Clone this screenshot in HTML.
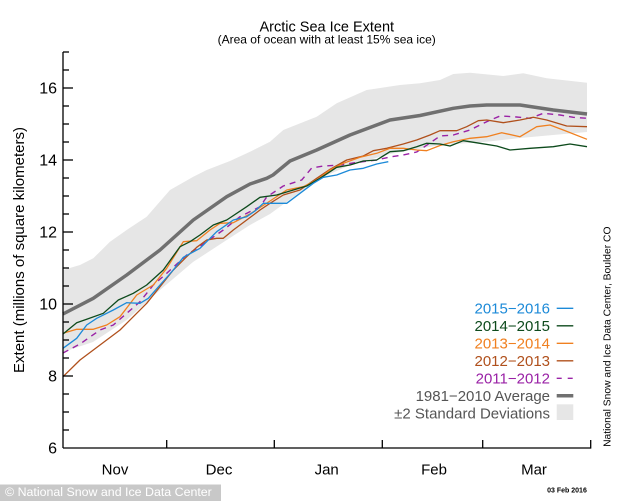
<!DOCTYPE html>
<html>
<head>
<meta charset="utf-8">
<style>
html,body{margin:0;padding:0;background:#fff;}
svg{display:block;}
text{font-family:"Liberation Sans",Arial,sans-serif;}
</style>
</head>
<body>
<svg width="634" height="501" viewBox="0 0 634 501" xmlns="http://www.w3.org/2000/svg">
<rect x="0" y="0" width="634" height="501" fill="#fff"/>

<!-- Title -->
<text x="326.8" y="31.7" font-size="14.5" text-anchor="middle" fill="#000">Arctic Sea Ice Extent</text>
<text x="326.7" y="43.3" font-size="12" text-anchor="middle" fill="#000">(Area of ocean with at least 15% sea ice)</text>

<!-- SD band -->
<polygon fill="#e6e6e6" points="63,270 80,265 93.3,258.3 110,241.7 126.7,230 146.7,216.7 170,190 193.3,176.7 206.7,170 230,161 250,151.7 270,141.7 283.3,130 316.7,116.7 336.7,103.3 366.7,90 400,85 420,83.3 440,80 453.3,74 470,72.7 503.3,76 523.3,73.3 546.7,78.3 587,82.7 587,132 553,135 520,138 486.7,141.7 440,145 390,154 350,165 316.7,180 270,214 250,225 226.7,240 193,262 160,290 126.7,320 93,342 63,352"/>

<!-- Average -->
<polyline fill="none" stroke="#707070" stroke-width="3.5" stroke-linejoin="round" points="63,314 93.3,298.3 126.7,275 160,250 193.3,220 226.7,196.7 250,184 266.7,178.3 273,175 290,161 316.7,150 350,135 390,120 420,115.5 453.3,108.3 470,106 486.7,105 520,105 553.3,110 587,114"/>

<!-- 2011-2012 purple dashed -->
<polyline fill="none" stroke="#9a22a6" stroke-width="1.4" stroke-dasharray="6,5" stroke-linejoin="round" points="63,353 80,344 100,330 113.3,325 126.7,313.3 140,301.7 153.3,285 166.7,273.3 186.7,255 206.7,241.7 223.3,230 240,216.7 260,206.7 266.7,197 283.3,186 301.7,180 311.7,168 323.3,166 340,165 360,162 376.7,160 390,157 403.3,155 416.7,152 430,143 440,136 453.3,135 470,130 486.7,121.7 500,116 513.3,116.7 530,118.3 543.3,113.3 560,115 573.3,117.3 587,118.3"/>

<!-- 2012-2013 brown -->
<polyline fill="none" stroke="#b0501c" stroke-width="1.3" stroke-linejoin="round" points="63,376.7 80,360 100,345 120,330 133.3,316.7 146.7,303.3 160,286.7 173.3,270 186.7,256.7 196.7,247.3 206.7,240 216.7,238.3 223.3,238.3 233.3,230 246.7,220 260,210 270,203.3 283.3,195 300,190 316.7,178.3 330,169.3 346.7,160 363.3,156 373.3,150.7 386.7,148.3 403.3,144 416.7,140 430,135 440,130.7 456.7,130.7 466.7,126.7 478.3,120.7 486.7,120 503.3,122.7 520,120 533.3,117.3 546.7,120 566.7,126 587,126.7"/>

<!-- 2013-2014 orange -->
<polyline fill="none" stroke="#f08020" stroke-width="1.3" stroke-linejoin="round" points="63,333.3 76.7,329.3 93.3,329.3 106.7,325 120,316.7 136.7,295 153.3,285 166.7,268.3 183.3,241.7 196.7,240.7 210,230 220,223.3 233.3,222.7 250,214 270,201 286.7,190 303.3,186.7 316.7,180 330,170 343.3,163.3 360,157.3 376.7,153.3 390,148.3 403.3,148.3 416.7,150 426.7,150.7 440,145.5 453.3,141.7 470,138.3 486.7,136.7 501.7,132.7 520,136.7 536.7,126.7 550,125 563.3,130 587,139.3"/>

<!-- 2014-2015 green -->
<polyline fill="none" stroke="#0d4a1c" stroke-width="1.3" stroke-linejoin="round" points="63,334 76.7,322.7 86.7,319.3 103.3,313.3 118.3,300 133.3,293.3 146.7,285 163.3,270 180,246.7 190,241.7 200,235 213.3,225 226.7,220 246.7,206.7 260,197.3 276.7,195 293.3,190 306.7,186 320,178.3 336.7,167.3 350,165 363.3,161 376.7,160 390,151.7 403.3,150.7 416.7,146.7 426.7,143.3 440,144 450,146 463.3,140.7 480,143.3 496.7,146 510,150 530,148.3 553.3,146.7 570,144 587,146.7"/>

<!-- 2015-2016 blue -->
<polyline fill="none" stroke="#1c8ad8" stroke-width="1.3" stroke-linejoin="round" points="63,348.3 76.7,338.3 86.7,325 96.7,318.3 113.3,310 126.7,302.7 140,303.3 148.3,298.3 160,285 173.3,270 183.3,257.3 200,248.3 216.7,231.7 233.3,220 246.7,216.7 255,211 263.3,203.3 286.7,203.3 300,193.3 313.3,183.3 323.3,177.3 336.7,175 350,170 363.3,168.3 376.7,164 388.3,161.7"/>

<!-- Axes -->
<g stroke="#000" stroke-width="1.3" fill="none">
  <line x1="63" y1="52" x2="63" y2="448"/>
  <line x1="63" y1="448" x2="590.7" y2="448"/>
  <!-- x ticks -->
  <line x1="166.7" y1="448" x2="166.7" y2="440"/>
  <line x1="274.3" y1="448" x2="274.3" y2="440"/>
  <line x1="382.3" y1="448" x2="382.3" y2="440"/>
  <line x1="482.7" y1="448" x2="482.7" y2="440"/>
  <line x1="590.7" y1="448.6" x2="590.7" y2="440"/>
  <!-- y ticks: every 0.5 (18px), major every 2 -->
  <line x1="63" y1="52" x2="69" y2="52"/>
  <line x1="63" y1="70" x2="69" y2="70"/>
  <line x1="63" y1="88" x2="73" y2="88"/>
  <line x1="63" y1="106" x2="69" y2="106"/>
  <line x1="63" y1="124" x2="69" y2="124"/>
  <line x1="63" y1="142" x2="69" y2="142"/>
  <line x1="63" y1="160" x2="73" y2="160"/>
  <line x1="63" y1="178" x2="69" y2="178"/>
  <line x1="63" y1="196" x2="69" y2="196"/>
  <line x1="63" y1="214" x2="69" y2="214"/>
  <line x1="63" y1="232" x2="73" y2="232"/>
  <line x1="63" y1="250" x2="69" y2="250"/>
  <line x1="63" y1="268" x2="69" y2="268"/>
  <line x1="63" y1="286" x2="69" y2="286"/>
  <line x1="63" y1="304" x2="73" y2="304"/>
  <line x1="63" y1="322" x2="69" y2="322"/>
  <line x1="63" y1="340" x2="69" y2="340"/>
  <line x1="63" y1="358" x2="69" y2="358"/>
  <line x1="63" y1="376" x2="73" y2="376"/>
  <line x1="63" y1="394" x2="69" y2="394"/>
  <line x1="63" y1="412" x2="69" y2="412"/>
  <line x1="63" y1="430" x2="69" y2="430"/>
</g>

<!-- y tick labels -->
<g font-size="16" text-anchor="end" fill="#000">
  <text x="57" y="93.7">16</text>
  <text x="57" y="165.7">14</text>
  <text x="57" y="237.7">12</text>
  <text x="57" y="309.7">10</text>
  <text x="57" y="381.7">8</text>
  <text x="57" y="453.7">6</text>
</g>

<!-- y axis title -->
<text transform="translate(24,250) rotate(-90)" font-size="15" text-anchor="middle" fill="#000">Extent (millions of square kilometers)</text>

<!-- month labels -->
<g font-size="15" text-anchor="middle" fill="#000">
  <text x="115" y="474.5">Nov</text>
  <text x="219" y="474.5">Dec</text>
  <text x="326.7" y="474.5">Jan</text>
  <text x="434" y="474.5">Feb</text>
  <text x="534" y="474.5">Mar</text>
</g>

<!-- Legend -->
<g font-size="15" text-anchor="end">
  <text x="550" y="313.7" fill="#1c8ad8">2015−2016</text>
  <text x="550" y="331.2" fill="#0d4a1c">2014−2015</text>
  <text x="550" y="348.7" fill="#f08020">2013−2014</text>
  <text x="550" y="366.2" fill="#b0501c">2012−2013</text>
  <text x="550" y="383.7" fill="#9a22a6">2011−2012</text>
  <text x="550" y="401.2" fill="#555">1981−2010 Average</text>
  <text x="550" y="418.7" fill="#555">±2 Standard Deviations</text>
</g>
<line x1="556.7" y1="308.3" x2="573.3" y2="308.3" stroke="#1c8ad8" stroke-width="1.3"/>
<line x1="556.7" y1="325.8" x2="573.3" y2="325.8" stroke="#0d4a1c" stroke-width="1.3"/>
<line x1="556.7" y1="343.3" x2="573.3" y2="343.3" stroke="#f08020" stroke-width="1.3"/>
<line x1="556.7" y1="360.8" x2="573.3" y2="360.8" stroke="#b0501c" stroke-width="1.3"/>
<line x1="556.7" y1="378.3" x2="573.3" y2="378.3" stroke="#9a22a6" stroke-width="1.4" stroke-dasharray="5,6"/>
<line x1="556.7" y1="395.8" x2="573.3" y2="395.8" stroke="#707070" stroke-width="3.5"/>
<rect x="556.7" y="404.3" width="16.6" height="15.7" fill="#e6e6e6"/>

<!-- right credit -->
<text transform="translate(610.7,336.7) rotate(-90)" font-size="10.3" text-anchor="middle" fill="#000">National Snow and Ice Data Center, Boulder CO</text>

<!-- date -->
<text x="567" y="492.6" font-size="7" font-weight="bold" text-anchor="middle" fill="#000">03 Feb 2016</text>

<!-- watermark box -->
<rect x="0" y="484.5" width="221" height="16.5" fill="#c8c8c8"/>
<text x="5" y="496" font-size="12.4" fill="#fff">© National Snow and Ice Data Center</text>
</svg>
</body>
</html>
